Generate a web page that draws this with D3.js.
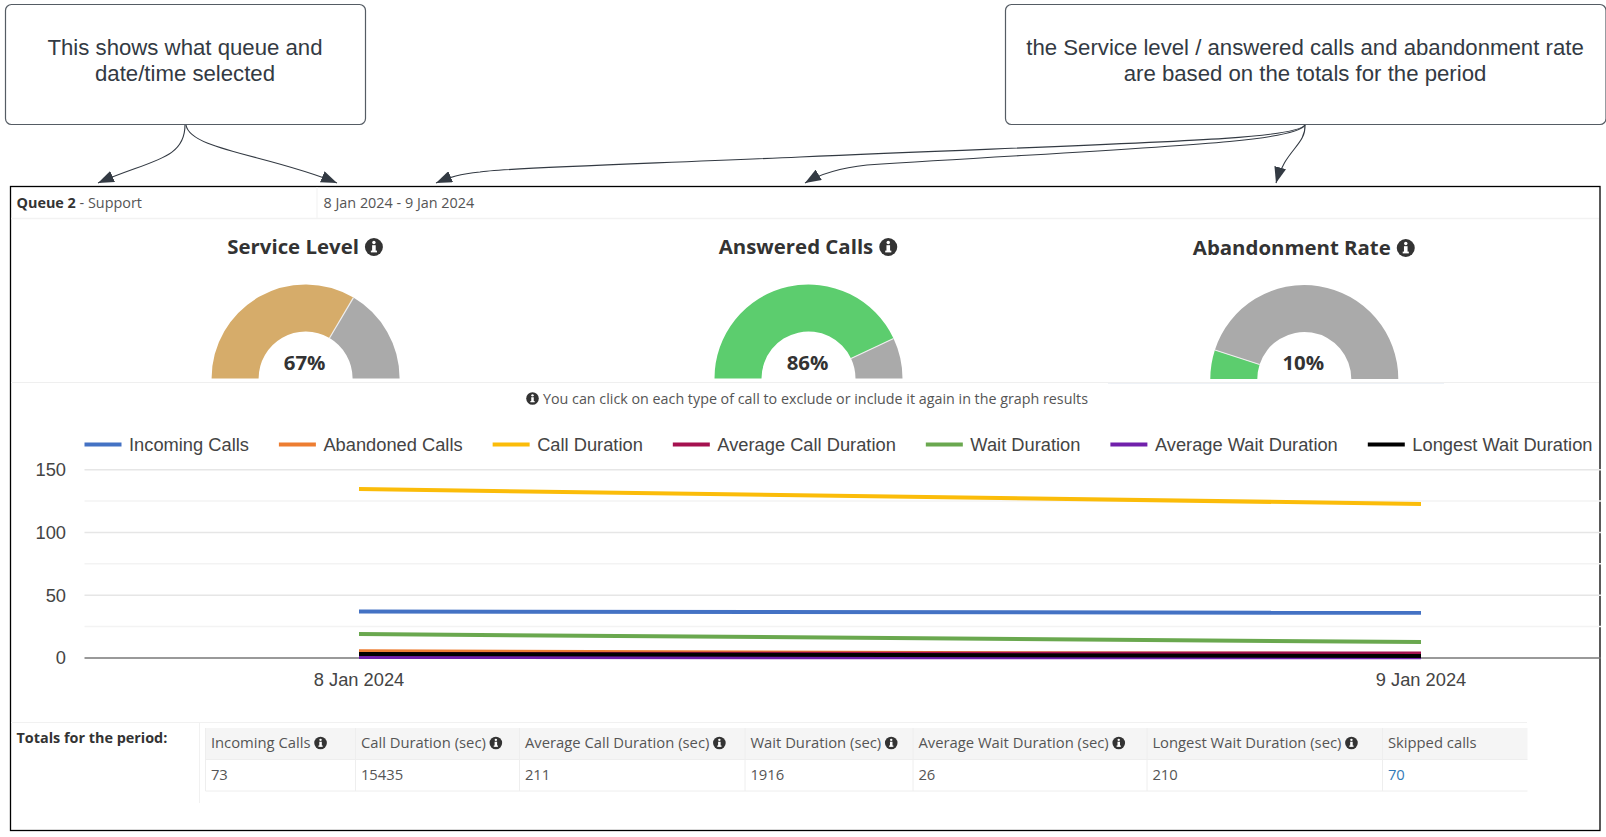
<!DOCTYPE html>
<html>
<head>
<meta charset="utf-8">
<title>Queue report</title>
<script src="https://cdn.jsdelivr.net/npm/d3@7/dist/d3.min.js"></script>
<style>
html,body{margin:0;padding:0;background:#fff;overflow:hidden}
svg{display:block}
.os{font-family:"Open Sans",sans-serif}
.ls{font-family:"Liberation Sans",Arial,sans-serif}
</style>
</head>
<body>
<svg id="c" width="1606" height="837"></svg>
<script>
// ---------- data ----------
const dates = ["8 Jan 2024", "9 Jan 2024"];
const seriesNames = ["Incoming Calls","Abandoned Calls","Call Duration","Average Call Duration","Wait Duration","Average Wait Duration","Longest Wait Duration"];
const seriesColors = ["#4472c4","#ed7d31","#fbbc09","#a5114f","#6aa84f","#7120ab","#000000"];
const incomingCalls = [37, 36];
const abandonedCalls = [5.3, 3];
const callDuration = [134.6, 122.7];
const averageCallDuration = [3.2, 3.6];
const waitDuration = [19.1, 12.7];
const averageWaitDuration = [0.8, 0.5];
const longestWaitDuration = [3.2, 1.6];
const seriesValues = [incomingCalls, abandonedCalls, callDuration, averageCallDuration, waitDuration, averageWaitDuration, longestWaitDuration];
const majorTicks = [0, 50, 100, 150];
const minorTicks = [25, 75, 125];
const gaugeTitles = ["Service Level", "Answered Calls", "Abandonment Rate"];
const gaugeValues = [67, 86, 10];
const gaugeColors = ["#d6ac6a", "#5ccd6e", "#5ccd6e"];
const tableHeaders = ["Incoming Calls","Call Duration (sec)","Average Call Duration (sec)","Wait Duration (sec)","Average Wait Duration (sec)","Longest Wait Duration (sec)","Skipped calls"];
const tableHasInfo = [true,true,true,true,true,true,false];
const tableValues = ["73","15435","211","1916","26","210","70"];
const boxTexts = [["This shows what queue and","date/time selected"],["the Service level / answered calls and abandonment rate","are based on the totals for the period"]];

// ---------- helpers ----------
const svg = d3.select("#c");
const ink = "#333a43";
const defs = svg.append("defs");
defs.append("marker").attr("id","ah").attr("markerUnits","userSpaceOnUse")
  .attr("viewBox","0 0 16 12").attr("refX",16).attr("refY",6)
  .attr("markerWidth",16).attr("markerHeight",12).attr("orient","auto")
  .append("path").attr("d","M0,0L16,6L0,12Z").attr("fill",ink);

function info(x, cy, r){
  const g = svg.append("g").attr("class","info").attr("transform",`translate(${x},${cy})`);
  g.append("circle").attr("r",r).attr("fill","#333");
  g.append("circle").attr("cy",-r*0.5).attr("r",r*0.19).attr("fill","#fff");
  g.append("rect").attr("x",-r*0.2).attr("y",-r*0.2).attr("width",r*0.4).attr("height",r*0.75).attr("fill","#fff");
  g.append("rect").attr("x",-r*0.34).attr("y",r*0.4).attr("width",r*0.68).attr("height",r*0.2).attr("fill","#fff");
}

// ---------- callout boxes ----------
[{x:5,w:360,cx:185},{x:1005,w:600.5,cx:1305}].forEach((b,i)=>{
  svg.append("rect").attr("x",b.x+.5).attr("y",4.5).attr("width",b.w).attr("height",120).attr("rx",6)
    .attr("fill","#fff").attr("stroke","#555c64").attr("stroke-width",1.2);
  boxTexts[i].forEach((t,j)=>svg.append("text").attr("class","ls").attr("x",b.cx).attr("y",55+j*26)
    .attr("text-anchor","middle").attr("font-size",22.2).attr("fill",ink).text(t));
});

// ---------- frame ----------
svg.append("rect").attr("x",10.5).attr("y",186.5).attr("width",1589.5).attr("height",644)
  .attr("fill","none").attr("stroke","#000").attr("stroke-width",1.3);

// ---------- connectors ----------
const conns = [
 "M185,125 C185,160 150,160 98,183",
 "M186,125 C190,150 270,155 337,183",
 "M1305,125 C1295,140 1150,142 800,157 C640,164 500,168 480,172 C460,174 450,177 436,183",
 "M1305,125 C1295,143 1150,147 867,165 C840,168 820,174 805,183",
 "M1305,125 C1306,145 1285,150 1276,183"
];
svg.append("g").selectAll("path").data(conns).join("path").attr("d",d=>d)
  .attr("fill","none").attr("stroke",ink).attr("stroke-width",1.1).attr("marker-end","url(#ah)");

// ---------- header row ----------
svg.append("line").attr("x1",317).attr("x2",317).attr("y1",187).attr("y2",218).attr("stroke","#f1f1f1");
svg.append("line").attr("x1",11).attr("x2",1599).attr("y1",218.5).attr("y2",218.5).attr("stroke","#f2f2f2").attr("stroke-width",1.5);
const q = svg.append("text").attr("class","os").attr("x",16.5).attr("y",208).attr("font-size",14.4).attr("fill","#555");
q.append("tspan").attr("font-weight",700).attr("fill","#333").text("Queue 2");
q.append("tspan").text(" - Support");
svg.append("text").attr("class","os").attr("x",323.5).attr("y",208).attr("font-size",14.4).attr("fill","#555").text("8 Jan 2024 - 9 Jan 2024");

// ---------- gauges ----------
const gaugeCx = [305.6, 808.5, 1304.3];
const gaugeBase = [378.5, 378.5, 379];
const titleY = [254, 254, 255];
const pct = d3.scaleLinear().domain([0,100]).range([-Math.PI/2, Math.PI/2]);
const arc = d3.arc().innerRadius(47).outerRadius(94);
gaugeTitles.forEach((t,i)=>{
  const cx = gaugeCx[i], v = gaugeValues[i], by = gaugeBase[i];
  const g = svg.append("g").attr("transform",`translate(${cx},${by})`);
  g.append("path").attr("d",arc({startAngle:pct(0),endAngle:pct(v)})).attr("fill",gaugeColors[i]);
  g.append("path").attr("d",arc({startAngle:pct(v),endAngle:pct(100)})).attr("fill","#aaaaaa");
  const [ux,uy] = [Math.sin(pct(v)),-Math.cos(pct(v))];
  g.append("line").attr("x1",ux*47).attr("y1",uy*47).attr("x2",ux*94).attr("y2",uy*94).attr("stroke","#eee").attr("stroke-width",1.2);
  g.append("text").attr("class","os").attr("text-anchor","middle").attr("y",-9).attr("x",-1)
    .attr("font-size",20.4).attr("font-weight",700).attr("fill","#333").text(v+"%");
  const tt = svg.append("text").attr("class","os").attr("y",titleY[i]).attr("font-size",20.4).attr("font-weight",700).attr("fill","#333").text(t);
  const w = tt.node().getComputedTextLength();
  const start = cx - (w + 6 + 18)/2 - 0.5;
  tt.attr("x",start);
  info(start+w+6+9, titleY[i]-7, 9);
});

svg.append("line").attr("x1",11).attr("x2",1599).attr("y1",382.5).attr("y2",382.5).attr("stroke","#efefef").attr("stroke-width",1);
svg.append("line").attr("x1",1108).attr("x2",1444).attr("y1",383.5).attr("y2",383.5).attr("stroke","#eef2f7").attr("stroke-width",1);

// ---------- notice ----------
info(532.5, 398.5, 6.3);
svg.append("text").attr("class","os").attr("x",543).attr("y",404).attr("font-size",14.3).attr("fill","#555")
  .text("You can click on each type of call to exclude or include it again in the graph results");

// ---------- chart ----------
const plotL = 84.5, plotR = 1601;
const x = d3.scalePoint().domain(dates).range([359,1421]);
const y = d3.scaleLinear().domain([0,150]).range([658,469.7]);

const grid = svg.append("g");
grid.selectAll("line.minor").data(minorTicks).join("line").attr("class","minor")
  .attr("x1",plotL).attr("x2",plotR).attr("y1",d=>y(d)).attr("y2",d=>y(d)).attr("stroke","#f3f3f3").attr("stroke-width",1.5);
grid.selectAll("line.major").data(majorTicks.filter(d=>d>0)).join("line").attr("class","major")
  .attr("x1",plotL).attr("x2",plotR).attr("y1",d=>y(d)).attr("y2",d=>y(d)).attr("stroke","#e6e6e6").attr("stroke-width",1.6);

const yAxis = svg.append("g").attr("transform",`translate(${plotL},0)`)
  .call(d3.axisLeft(y).tickValues(majorTicks).tickSize(0).tickPadding(18.5));
yAxis.select(".domain").remove();
yAxis.selectAll("text").attr("class","ls").attr("font-family","Liberation Sans").attr("font-size",18.3).attr("fill","#444");

svg.append("line").attr("x1",plotL).attr("x2",plotR).attr("y1",y(0)).attr("y2",y(0)).attr("stroke","#777").attr("stroke-width",1.5);

const line = d3.line().x((d,i)=>x(dates[i])).y(d=>y(d));
svg.append("g").selectAll("path").data(seriesValues).join("path")
  .attr("d",d=>line(d)).attr("fill","none").attr("stroke",(d,i)=>seriesColors[i]).attr("stroke-width",4);

const xAxis = svg.append("g").attr("transform",`translate(-0.5,${y(0)})`)
  .call(d3.axisBottom(x).tickSize(0).tickPadding(15.5));
xAxis.select(".domain").remove();
xAxis.selectAll("text").attr("class","ls").attr("font-family","Liberation Sans").attr("font-size",18.3).attr("fill","#444");

// legend
let lx = plotL;
seriesNames.forEach((n,i)=>{
  const g = svg.append("g");
  g.append("line").attr("x1",lx).attr("x2",lx+37).attr("y1",444.5).attr("y2",444.5).attr("stroke",seriesColors[i]).attr("stroke-width",4);
  const t = g.append("text").attr("class","ls").attr("x",lx+44.5).attr("y",450.5).attr("font-size",18.3).attr("fill","#444").text(n);
  lx += 44.5 + t.node().getComputedTextLength() + 30;
});

// ---------- totals table ----------
svg.append("line").attr("x1",11).attr("x2",1527).attr("y1",722.5).attr("y2",722.5).attr("stroke","#f1f1f1");
svg.append("line").attr("x1",199.5).attr("x2",199.5).attr("y1",723).attr("y2",803).attr("stroke","#f1f1f1");
svg.append("text").attr("class","os").attr("x",16.5).attr("y",742.5).attr("font-size",14.4).attr("font-weight",700).attr("fill","#333").text("Totals for the period:");
const edges = [205.5,355.5,519.5,745,913,1147,1382.5,1527.5];
svg.append("rect").attr("x",edges[0]).attr("y",728).attr("width",edges[7]-edges[0]).attr("height",31.5).attr("fill","#f5f5f5");
[759.5,791].forEach(v=>svg.append("line").attr("x1",edges[0]).attr("x2",edges[7]).attr("y1",v).attr("y2",v).attr("stroke","#eeeeee"));
edges.slice(0,7).forEach((e,i)=>svg.append("line").attr("x1",e).attr("x2",e).attr("y1",728).attr("y2",791).attr("stroke","#eeeeee"));
tableHeaders.forEach((h,i)=>{
  const tx = edges[i]+5.4;
  const t = svg.append("text").attr("class","os").attr("x",tx).attr("y",748).attr("font-size",14.8).attr("fill","#555").text(h);
  if(tableHasInfo[i]) info(tx+t.node().getComputedTextLength()+10, 743, 6.3);
  svg.append("text").attr("class","os").attr("x",tx).attr("y",780).attr("font-size",14.8)
    .attr("fill",i===6?"#337ab7":"#555").text(tableValues[i]);
});
</script>
</body>
</html>
